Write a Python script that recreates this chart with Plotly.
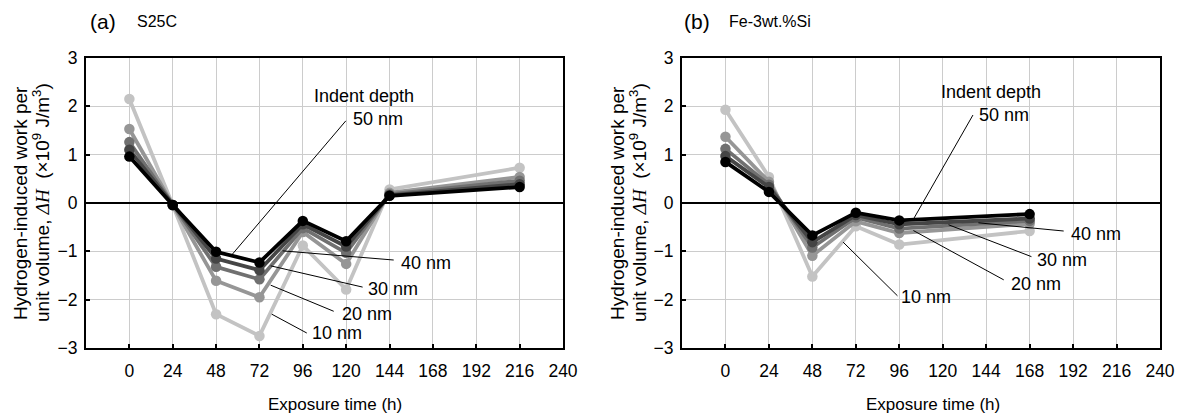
import plotly.graph_objects as go

# The page body has an 8px margin, so the figure is drawn 8px in from the window corner.
OFF = 8
W, H = 1188 - OFF, 416 - OFF

depths = ["10 nm", "20 nm", "30 nm", "40 nm", "50 nm"]
colors = ["#c3c3c3", "#969696", "#707070", "#454545", "#000000"]

# Panel (a) S25C
time_a = [0, 24, 48, 72, 96, 120, 144, 216]
vals_a = {
    "10 nm": [2.15, -0.04, -2.30, -2.75, -0.88, -1.79, 0.28, 0.73],
    "20 nm": [1.53, -0.04, -1.61, -1.95, -0.60, -1.26, 0.21, 0.54],
    "30 nm": [1.26, -0.04, -1.32, -1.58, -0.52, -1.03, 0.18, 0.46],
    "40 nm": [1.10, -0.04, -1.15, -1.39, -0.44, -0.90, 0.16, 0.39],
    "50 nm": [0.96, -0.04, -1.01, -1.23, -0.37, -0.79, 0.15, 0.33],
}

# Panel (b) Fe-3wt.%Si
time_b = [0, 24, 48, 72, 96, 168]
vals_b = {
    "10 nm": [1.93, 0.54, -1.52, -0.48, -0.86, -0.58],
    "20 nm": [1.37, 0.44, -1.09, -0.38, -0.62, -0.43],
    "30 nm": [1.12, 0.38, -0.92, -0.30, -0.53, -0.37],
    "40 nm": [0.97, 0.33, -0.81, -0.25, -0.44, -0.32],
    "50 nm": [0.85, 0.23, -0.67, -0.20, -0.36, -0.23],
}

x_ticks = [0, 24, 48, 72, 96, 120, 144, 168, 192, 216, 240]
y_ticks = [-3, -2, -1, 0, 1, 2, 3]

# label positions (data coords): text x, text y, leader from (x,y) to (x,y)
labels_a = [
    ("50 nm", 137.4, 1.74, (119.8, 1.70), (57.0, -1.06)),
    ("40 nm", 164.3, -1.24, (146.3, -1.18), (84.8, -0.99)),
    ("30 nm", 145.8, -1.78, (129.1, -1.74), (78.2, -1.30)),
    ("20 nm", 131.6, -2.30, (113.1, -2.24), (78.2, -1.70)),
    ("10 nm", 114.9, -2.69, (98.2, -2.69), (78.8, -2.30)),
]
labels_b = [
    ("50 nm", 153.9, 1.82, (136.7, 1.82), (104.2, -0.31)),
    ("40 nm", 204.4, -0.64, (186.8, -0.58), (139.7, -0.41)),
    ("30 nm", 185.9, -1.17, (169.0, -1.11), (123.2, -0.45)),
    ("20 nm", 171.3, -1.68, (153.7, -1.59), (103.8, -0.57)),
    ("10 nm", 110.9, -1.94, (95.0, -1.92), (65.0, -0.81)),
]
header_a = (129.7, 2.22)
header_b = (146.9, 2.29)

FONT = "Liberation Sans, Arial, sans-serif"

fig = go.Figure()
for d, c in zip(depths, colors):
    fig.add_trace(go.Scatter(x=time_a, y=vals_a[d], mode="lines+markers", name=d,
                             line=dict(color=c, width=3.8), marker=dict(color=c, size=10.5),
                             xaxis="x", yaxis="y", showlegend=False))
for d, c in zip(depths, colors):
    fig.add_trace(go.Scatter(x=time_b, y=vals_b[d], mode="lines+markers", name=d,
                             line=dict(color=c, width=3.8), marker=dict(color=c, size=10.5),
                             xaxis="x2", yaxis="y2", showlegend=False))

def px_x(p):  # window pixel -> paper
    return (p - OFF) / W

def px_y(p):
    return 1 - (p - OFF) / H

ydom = [px_y(348), px_y(58)]
axis_common = dict(showgrid=True, gridcolor="#cccccc", gridwidth=1,
                   showline=True, linecolor="black", linewidth=2, mirror=True,
                   ticks="inside", ticklen=4, tickcolor="black", tickwidth=1.5,
                   tickfont=dict(family=FONT, size=17.5, color="black"),
                   zeroline=False, automargin=False)

fig.update_layout(
    width=W, height=H,
    margin=dict(l=0, r=0, t=0, b=0),
    paper_bgcolor="white", plot_bgcolor="white",
    font=dict(family=FONT, color="black"),
    xaxis=dict(domain=[px_x(86), px_x(563)], range=[-24, 240], tickvals=x_ticks,
               anchor="y", ticklabelstandoff=6, **axis_common),
    yaxis=dict(domain=ydom, range=[-3, 3], tickvals=y_ticks, anchor="x",
               ticklabelstandoff=3, **axis_common),
    xaxis2=dict(domain=[px_x(682), px_x(1160)], range=[-24, 240], tickvals=x_ticks,
                anchor="y2", ticklabelstandoff=6, **axis_common),
    yaxis2=dict(domain=ydom, range=[-3, 3], tickvals=y_ticks, anchor="x2",
                ticklabelstandoff=3, **axis_common),
)

shapes = []
annotations = []
for xr, yr, labels, header in [("x", "y", labels_a, header_a), ("x2", "y2", labels_b, header_b)]:
    shapes.append(dict(type="line", xref=xr + " domain", yref=yr, x0=0, x1=1, y0=0, y1=0,
                       line=dict(color="black", width=2)))
    for text, tx, ty, p0, p1 in labels:
        shapes.append(dict(type="line", xref=xr, yref=yr, x0=p0[0], y0=p0[1], x1=p1[0], y1=p1[1],
                           line=dict(color="black", width=1)))
        annotations.append(dict(xref=xr, yref=yr, x=tx, y=ty, text=text, showarrow=False,
                                font=dict(family=FONT, size=18, color="black"),
                                xanchor="center", yanchor="middle"))
    annotations.append(dict(xref=xr, yref=yr, x=header[0], y=header[1], text="Indent depth",
                            showarrow=False, font=dict(family=FONT, size=18, color="black"),
                            xanchor="center", yanchor="middle"))

ytitle1 = "Hydrogen-induced work per"
ytitle2 = ("unit volume, <span style='font-family:Liberation Serif'><i>ΔH</i></span>"
           "  (×10<sup>9</sup> J/m<sup>3</sup>)")
for c1, c2 in ((20, 41), (617, 638)):
    for cx, t in ((c1, ytitle1), (c2, ytitle2)):
        annotations.append(dict(xref="paper", yref="paper", x=px_x(cx), y=px_y(203), text=t,
                                textangle=-90, showarrow=False, xanchor="center", yanchor="middle",
                                font=dict(family=FONT, size=19, color="black")))
for cx in (335, 933):
    annotations.append(dict(xref="paper", yref="paper", x=px_x(cx), y=px_y(404),
                            text="Exposure time (h)", showarrow=False,
                            xanchor="center", yanchor="middle",
                            font=dict(family=FONT, size=17, color="black")))
for lx, sx, lab, name in [(88, 135, "(a)", "S25C"), (682, 727, "(b)", "Fe-3wt.%Si")]:
    annotations.append(dict(xref="paper", yref="paper", x=px_x(lx), y=px_y(22), text=lab,
                            showarrow=False, xanchor="left", yanchor="middle",
                            font=dict(family=FONT, size=21, color="black")))
    annotations.append(dict(xref="paper", yref="paper", x=px_x(sx), y=px_y(22), text=name,
                            showarrow=False, xanchor="left", yanchor="middle",
                            font=dict(family=FONT, size=16, color="black")))

fig.update_layout(shapes=shapes, annotations=annotations)
fig.write_html("out.html")
